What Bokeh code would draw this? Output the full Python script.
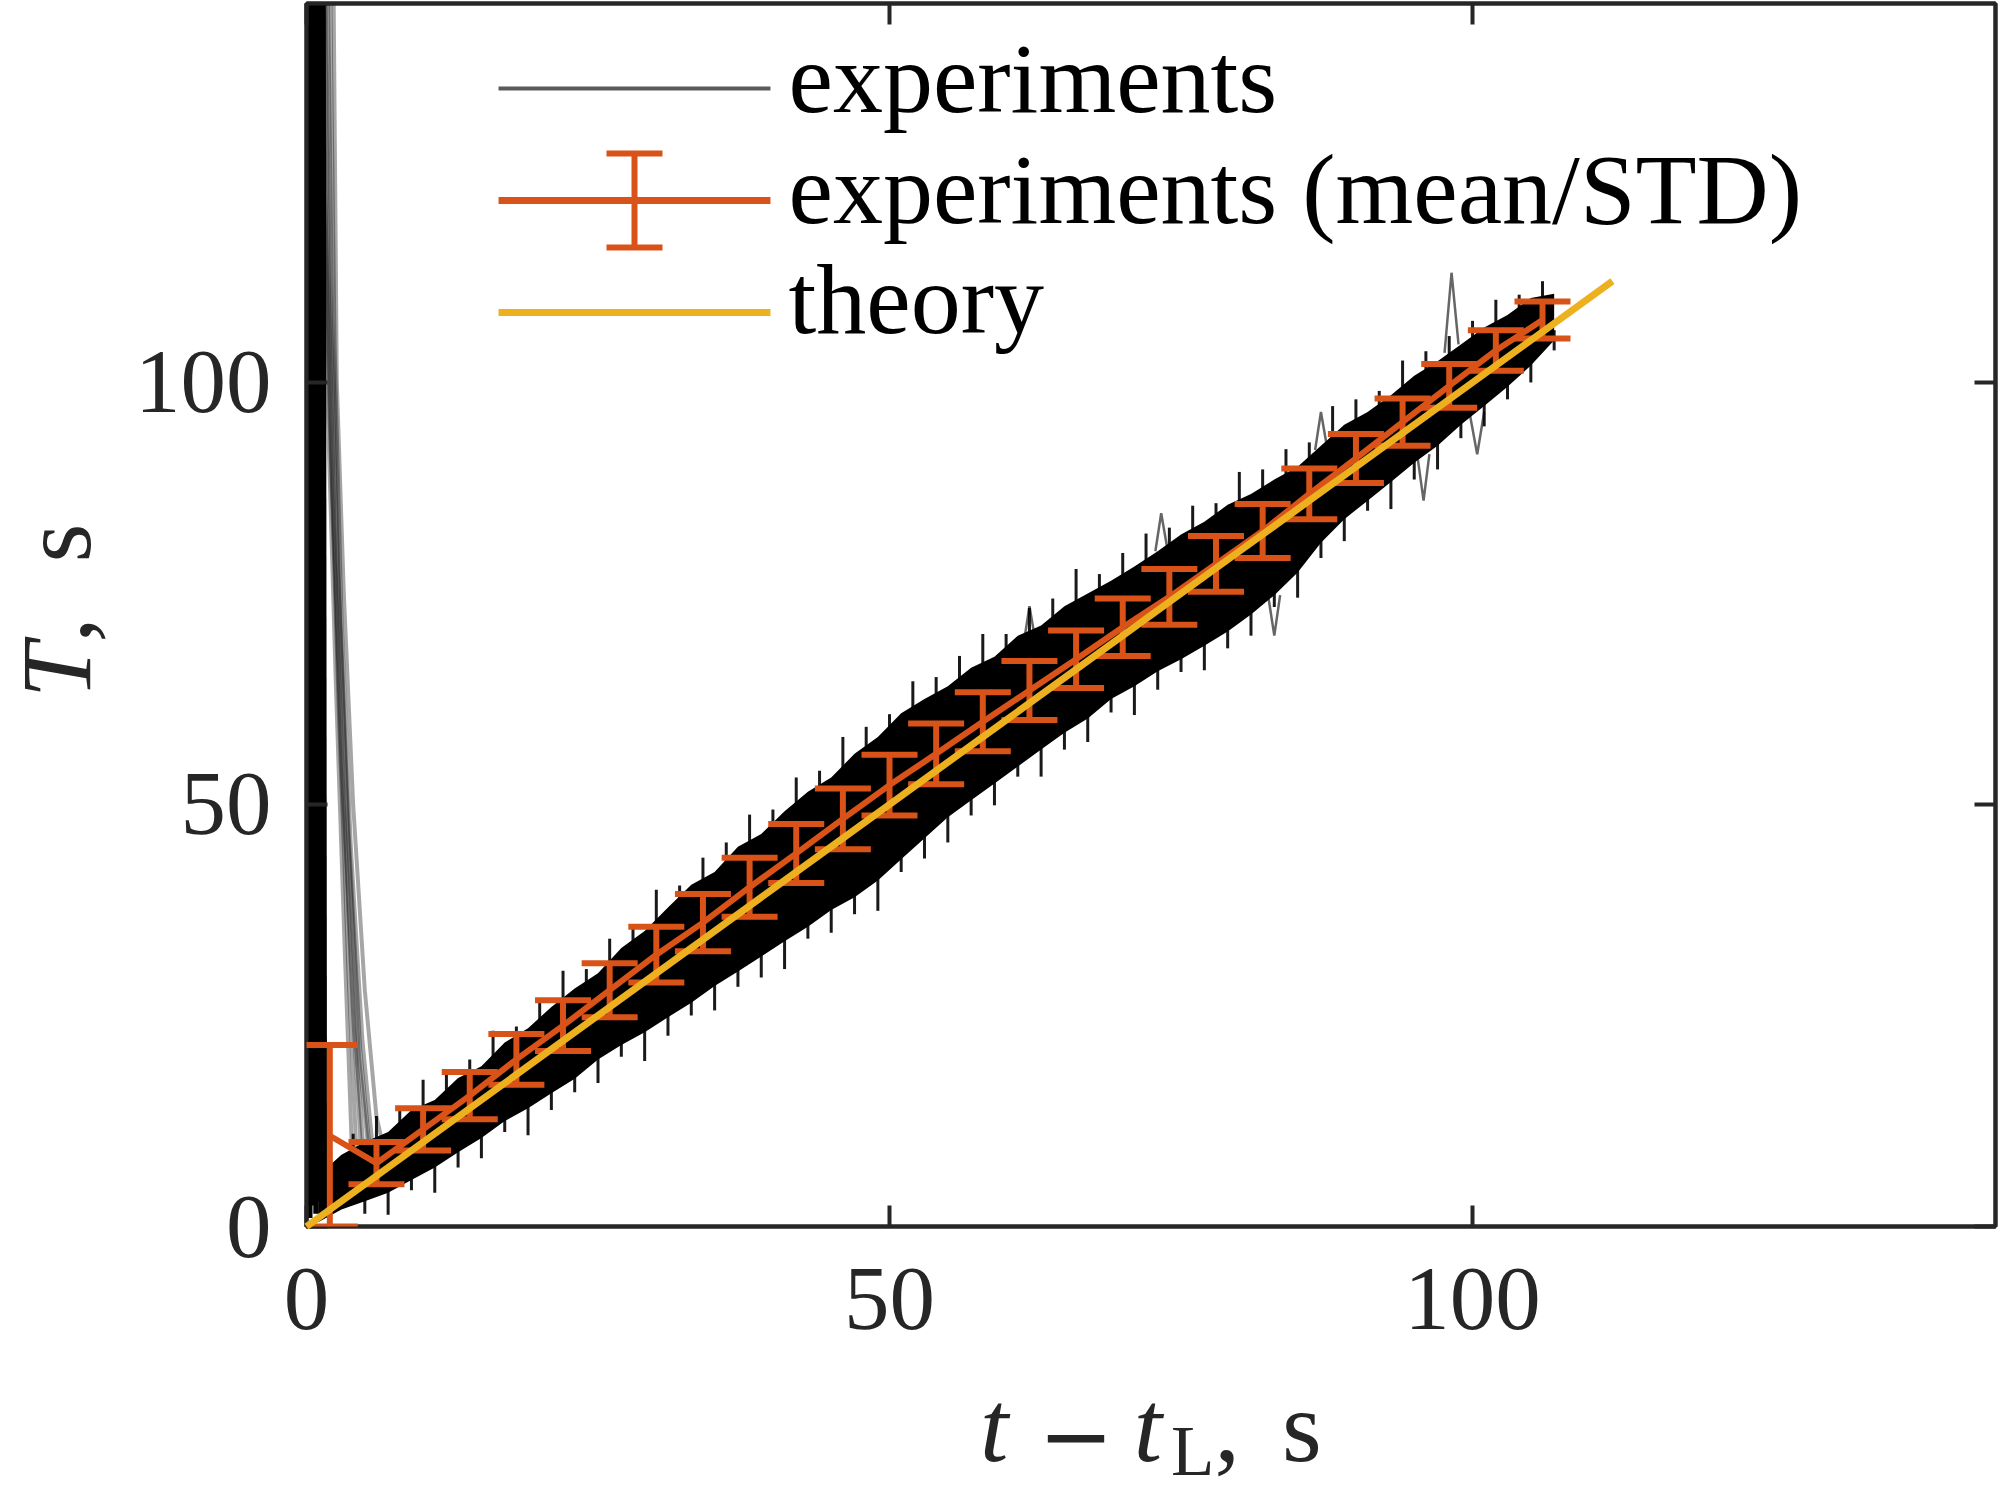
from bokeh.plotting import figure
from bokeh.models import (Range1d, LinearAxis, FixedTicker, Whisker, TeeHead,
                          ColumnDataSource, Label, Div)
from bokeh.layouts import row, column
from bokeh.embed import file_html
from bokeh.resources import INLINE

# ---------------- data ----------------
# mean / STD of the experiments
MEAN_T = [2, 6, 10, 14, 18, 22, 26, 30, 34, 38, 42, 46, 50, 54, 58, 62, 66,
          70, 74, 78, 82, 86, 90, 94, 98, 102, 106]
MEAN_V = [10.75, 7.5, 11.5, 15.5, 19.8, 23.8, 28.0, 32.2, 36.0, 40.2, 44.2,
          48.3, 52.3, 56.0, 59.8, 63.5, 67.2, 71.0, 74.6, 78.5, 82.4, 86.8,
          91.0, 95.3, 99.6, 103.8, 107.4]
MEAN_STD = [10.75, 2.5, 2.5, 2.8, 3.0, 3.0, 3.2, 3.3, 3.4, 3.5, 3.5, 3.6, 3.6,
            3.6, 3.5, 3.5, 3.4, 3.4, 3.3, 3.3, 3.2, 3.0, 2.9, 2.8, 2.6, 2.4, 2.2]

# theory
THEORY_T = [0, 20, 40, 60, 80, 100, 112]
THEORY_V = [0, 20, 40, 60, 80, 100, 112]

# envelope of all experimental traces
ENV_T = [1, 3, 5, 7, 9, 11, 13, 15, 17, 19, 21, 23, 25, 27, 29, 31, 33, 35,
         37, 39, 41, 43, 45, 47, 49, 51, 53, 55, 57, 59, 61, 63, 65, 67, 69,
         71, 73, 75, 77, 79, 81, 83, 85, 87, 89, 91, 93, 95, 97, 99, 101, 103,
         105, 107]
ENV_HI = [6.0, 8.5, 10.0, 11.2, 13.8, 15.0, 17.6, 19.0, 21.8, 23.5, 26.0, 28.2,
          30.0, 33.0, 35.0, 37.8, 40.5, 42.0, 45.0, 46.5, 49.2, 51.5, 53.2,
          56.0, 58.0, 60.8, 62.5, 64.0, 66.2, 67.5, 70.0, 71.2, 73.5, 75.0,
          76.5, 78.2, 80.0, 82.0, 83.5, 85.5, 86.8, 88.5, 90.0, 92.5, 95.0,
          96.5, 98.5, 100.8, 102.5, 104.5, 106.5, 108.0, 110.0, 110.5]
ENV_LO = [0.5, 2.0, 3.0, 4.0, 5.5, 7.0, 8.8, 10.5, 12.5, 14.0, 15.8, 17.5, 19.8,
          21.5, 23.0, 24.8, 26.5, 28.5, 30.2, 32.0, 33.8, 35.5, 37.5, 39.0,
          41.0, 43.5, 46.0, 48.5, 50.5, 52.5, 54.5, 56.5, 58.5, 60.2, 62.5,
          64.0, 65.8, 67.2, 68.8, 70.5, 72.5, 74.8, 77.5, 81.0, 83.8, 86.0,
          88.2, 90.5, 92.5, 95.0, 97.2, 99.5, 102.0, 105.0]

# noise peaks of single traces sticking out of the upper edge
UP_T = [4, 6, 8, 10, 12, 14, 16, 18, 20, 22, 24, 26, 28, 30, 32, 34, 36, 38,
        40, 42, 44, 46, 48, 50, 52, 54, 56, 58, 60, 62, 64, 66, 68, 70, 72, 74,
        76, 78, 80, 82, 84, 86, 88, 90, 92, 94, 96, 98, 100, 102, 104, 106]
UP_BASE = [8.0, 9.4, 11.3, 13.2, 15.1, 17.1, 19.2, 21.5, 23.5, 25.9, 27.9,
           30.3, 32.8, 35.2, 38.0, 40.0, 42.3, 44.5, 46.6, 49.2, 51.2, 53.4,
           55.8, 58.2, 60.4, 62.0, 63.9, 65.6, 67.5, 69.4, 71.2, 73.0, 74.5,
           76.2, 77.9, 79.8, 81.5, 83.3, 85.0, 86.5, 88.0, 90.0, 92.5, 94.5,
           96.3, 98.5, 100.5, 102.3, 104.3, 106.0, 107.8, 109.0]
UP_PEAK = [11.0, 13.1, 13.7, 17.4, 18.3, 19.8, 23.2, 23.7, 27.0, 30.3, 30.5,
           34.1, 35.8, 39.9, 40.4, 43.7, 45.5, 48.8, 49.4, 53.2, 54.0, 58.0,
           59.2, 60.7, 64.6, 65.1, 67.6, 70.2, 70.2, 73.3, 74.4, 77.9, 77.3,
           79.8, 82.1, 82.8, 85.4, 85.7, 89.4, 89.7, 92.1, 92.9, 97.2, 98.0,
           99.0, 102.6, 103.7, 105.5, 107.3, 109.8, 110.4, 112.0]

# noise dips of single traces sticking out of the lower edge
LO_T = [5, 7, 9, 11, 13, 15, 17, 19, 21, 23, 25, 27, 29, 31, 33, 35, 37, 39,
        41, 43, 45, 47, 49, 51, 53, 55, 57, 59, 61, 63, 65, 67, 69, 71, 73, 75,
        77, 79, 81, 83, 85, 87, 89, 91, 93, 95, 97, 99, 101, 103, 105, 107]
LO_BASE = [4.2, 5.2, 6.7, 8.2, 10.0, 11.7, 13.7, 15.2, 17.0, 18.7, 21.0, 22.7,
           24.2, 26.0, 27.7, 29.7, 31.4, 33.2, 35.0, 36.7, 38.7, 40.2, 42.2,
           44.7, 47.2, 49.7, 51.7, 53.7, 55.7, 57.7, 59.7, 61.4, 63.7, 65.2,
           67.0, 68.4, 70.0, 71.7, 73.7, 76.0, 78.7, 82.2, 85.0, 87.2, 89.4,
           91.7, 93.7, 96.2, 98.4, 100.7, 103.2, 106.2]
LO_DIP = [1.5, 1.4, 4.3, 4.0, 7.0, 8.1, 11.2, 10.8, 13.8, 15.9, 17.0, 20.1,
          19.6, 22.6, 25.0, 25.6, 28.4, 29.5, 30.5, 34.1, 34.8, 37.0, 37.4,
          42.0, 43.6, 45.5, 48.7, 49.9, 53.3, 53.3, 56.5, 57.4, 60.9, 60.6,
          63.6, 65.7, 65.9, 68.5, 70.0, 73.4, 74.5, 79.2, 81.2, 84.8, 85.0,
          88.5, 89.7, 93.4, 94.8, 98.0, 100.0, 103.8]

# a few larger single-trace excursions
SPIKES_T = [[97.6, 98.2, 98.8], [86.5, 87.0, 87.5], [72.8, 73.3, 73.8],
            [61.5, 62.0, 62.5], [99.8, 100.4, 101.0], [95.3, 95.8, 96.3],
            [82.5, 83.0, 83.5]]
SPIKES_V = [[103.5, 113.0, 104.5], [92.0, 96.5, 92.5], [80.0, 84.5, 80.5],
            [69.0, 73.5, 69.5], [96.0, 91.5, 96.5], [91.0, 86.0, 91.5],
            [74.5, 70.0, 74.8]]

# slowly decaying starts of some traces
WEDGE_T = [[2.3, 2.6, 3.2, 4.0, 5.0, 6.0, 6.5], [2.0, 2.4, 3.0, 3.8, 4.8, 5.7],
           [1.8, 2.2, 2.8, 3.6, 4.6, 5.5], [1.6, 2.0, 2.7, 3.5, 4.5, 5.4],
           [1.5, 1.8, 2.4, 3.2, 4.2, 5.0], [1.3, 1.6, 2.2, 3.0, 4.0, 4.8],
           [1.2, 1.4, 2.0, 2.8, 3.6, 4.4], [1.1, 1.3, 1.8, 2.5, 3.3, 4.0]]
WEDGE_V = [[150, 100, 75, 50, 28, 13, 10], [150, 105, 72, 45, 22, 9],
           [150, 108, 76, 47, 21, 8], [150, 112, 78, 48, 20, 8],
           [150, 118, 82, 50, 22, 7], [150, 122, 88, 55, 25, 6],
           [150, 128, 95, 60, 30, 5], [150, 130, 98, 65, 32, 5]]

# steep starts of most traces
DROP_T0 = [0.0, 0.25, 0.5, 0.75, 1.0, 1.25]
DROP_V0 = [400, 400, 400, 400, 400, 400]
DROP_T1 = [0.3, 0.55, 0.8, 1.05, 1.3, 1.55]
DROP_V1 = [1.0, 2.5, 1.5, 3.0, 2.0, 4.0]

X_TICKS = [0, 50, 100]
Y_TICKS = [0, 50, 100]

LEGEND_LABELS = ["experiments", "experiments (mean/STD)", "theory"]

# ---------------- style ----------------
ORANGE = "#D95319"
YELLOW = "#EDB120"
AXC = "#262626"
FONT = "Liberation Serif"

YLAB_W = 110
FIG_BOTTOM = 137

p = figure(frame_width=1689, frame_height=1223,
           x_range=Range1d(0, 144.85), y_range=Range1d(0, 144.9),
           output_backend="svg", toolbar_location=None,
           min_border_left=306 - YLAB_W, min_border_right=3, min_border_top=3,
           min_border_bottom=FIG_BOTTOM, margin=0,
           background_fill_color="white", border_fill_color="white")
p.grid.visible = False
p.outline_line_color = AXC
p.outline_line_width = 4


def style_axis(ax, labels=True):
    ax.major_tick_in = 21
    ax.major_tick_out = 0
    ax.minor_tick_in = 0
    ax.minor_tick_out = 0
    ax.major_tick_line_width = 4
    ax.major_tick_line_color = AXC
    ax.axis_line_width = 4
    ax.axis_line_color = AXC
    ax.major_label_text_font = FONT
    ax.major_label_text_color = AXC
    if labels:
        ax.major_label_text_font_size = "91px"
    else:
        ax.major_label_text_font_size = "0px"
        ax.major_label_standoff = 0
        ax.major_label_overrides = {0: "", 50: "", 100: ""}


p.xaxis[0].ticker = FixedTicker(ticks=X_TICKS)
p.yaxis[0].ticker = FixedTicker(ticks=Y_TICKS)
style_axis(p.xaxis[0])
style_axis(p.yaxis[0])
p.xaxis[0].major_label_standoff = 42
p.yaxis[0].major_label_standoff = 35

top_ax = LinearAxis(ticker=FixedTicker(ticks=X_TICKS))
right_ax = LinearAxis(ticker=FixedTicker(ticks=Y_TICKS))
style_axis(top_ax, labels=False)
style_axis(right_ax, labels=False)
p.add_layout(top_ax, "above")
p.add_layout(right_ax, "right")

# ---------------- experiments ----------------
p.varea(x=ENV_T, y1=ENV_LO, y2=ENV_HI, fill_color="black", fill_alpha=1.0)
p.segment(x0=DROP_T0, y0=DROP_V0, x1=DROP_T1, y1=DROP_V1,
          line_color="black", line_width=5)
p.multi_line(xs=WEDGE_T, ys=WEDGE_V, line_color="black", line_alpha=0.35,
             line_width=4)
p.segment(x0=UP_T, y0=UP_BASE, x1=UP_T, y1=UP_PEAK,
          line_color="black", line_alpha=0.9, line_width=3)
p.segment(x0=LO_T, y0=LO_BASE, x1=LO_T, y1=LO_DIP,
          line_color="black", line_alpha=0.9, line_width=3)
p.multi_line(xs=SPIKES_T, ys=SPIKES_V, line_color="black", line_alpha=0.6,
             line_width=2.5)

# ---------------- mean / STD ----------------
src = ColumnDataSource(dict(
    t=MEAN_T, m=MEAN_V,
    upper=[m + s for m, s in zip(MEAN_V, MEAN_STD)],
    lower=[m - s for m, s in zip(MEAN_V, MEAN_STD)]))
p.line("t", "m", source=src, line_color=ORANGE, line_width=6, level="annotation")
p.add_layout(Whisker(source=src, base="t", upper="upper", lower="lower",
                     line_color=ORANGE, line_width=6, level="annotation",
                     upper_head=TeeHead(size=56, line_color=ORANGE, line_width=6),
                     lower_head=TeeHead(size=56, line_color=ORANGE, line_width=6)))

# ---------------- theory ----------------
p.line(THEORY_T, THEORY_V, line_color=YELLOW, line_width=7, level="overlay")

# ---------------- legend (drawn by hand; layout constants) ----------------
LEG_X0, LEG_X1, LEG_XT = 16.47, 39.79, 41.34
LEG_ROWS = [134.83, 121.56, 108.29]
LEG_TEXT_Y = [136.01, 122.86, 109.83]
p.line([LEG_X0, LEG_X1], [LEG_ROWS[0]] * 2, line_color="#5a5a5a",
       line_width=4, level="overlay")
p.line([LEG_X0, LEG_X1], [LEG_ROWS[1]] * 2, line_color=ORANGE,
       line_width=7, level="overlay")
p.line([LEG_X0, LEG_X1], [LEG_ROWS[2]] * 2, line_color=YELLOW,
       line_width=7, level="overlay")
leg_src = ColumnDataSource(dict(t=[(LEG_X0 + LEG_X1) / 2],
                                upper=[LEG_ROWS[1] + 5.57],
                                lower=[LEG_ROWS[1] - 5.57]))
p.add_layout(Whisker(source=leg_src, base="t", upper="upper", lower="lower",
                     line_color=ORANGE, line_width=6, level="overlay",
                     upper_head=TeeHead(size=56, line_color=ORANGE, line_width=6),
                     lower_head=TeeHead(size=56, line_color=ORANGE, line_width=6)))
for txt, yb in zip(LEGEND_LABELS, LEG_TEXT_Y):
    p.add_layout(Label(x=LEG_XT, y=yb, text=txt, text_font=FONT,
                       text_font_size="100px", text_color="black",
                       text_align="left", text_baseline="middle",
                       level="overlay"))

# ---------------- axis titles (HTML text with italics / subscript) ----------
LBL = ("font-family:'Liberation Serif'; line-height:1; "
       "color:#262626; white-space:nowrap; position:absolute;")
ylab_html = ('<div style="' + LBL + ' font-size:100px; left:7px; top:698px; '
             'transform-origin:0 0; transform:rotate(-90deg);">'
             '<i>T</i>,<span style="margin-left:0.55em">s</span></div>')
fig_h = 3 + 1223 + FIG_BOTTOM
xlab_html = ('<div style="' + LBL + ' font-size:102px; left:980px; top:13px;">'
             '<i>t</i>'
             '<span style="font-family:\'DejaVu Sans\'; font-size:90px; '
             'position:relative; top:6px; margin-left:30px; margin-right:20px;">'
             '&minus;</span>'
             '<i>t</i>'
             '<span style="font-size:71px; position:relative; top:14px; '
             'margin-left:9px;">L</span>,'
             '<span style="margin-left:42px">s</span></div>')

div_y = Div(text=ylab_html, width=YLAB_W, height=fig_h, margin=0,
            styles={"position": "relative", "overflow": "visible"})
div_x = Div(text=xlab_html, width=306 + 1689 + 3,
            height=1493 - fig_h, margin=0,
            styles={"position": "relative", "overflow": "visible"})

layout = column(row(div_y, p, spacing=0), div_x, spacing=0)

open("out.html", "w").write(file_html(layout, INLINE))
